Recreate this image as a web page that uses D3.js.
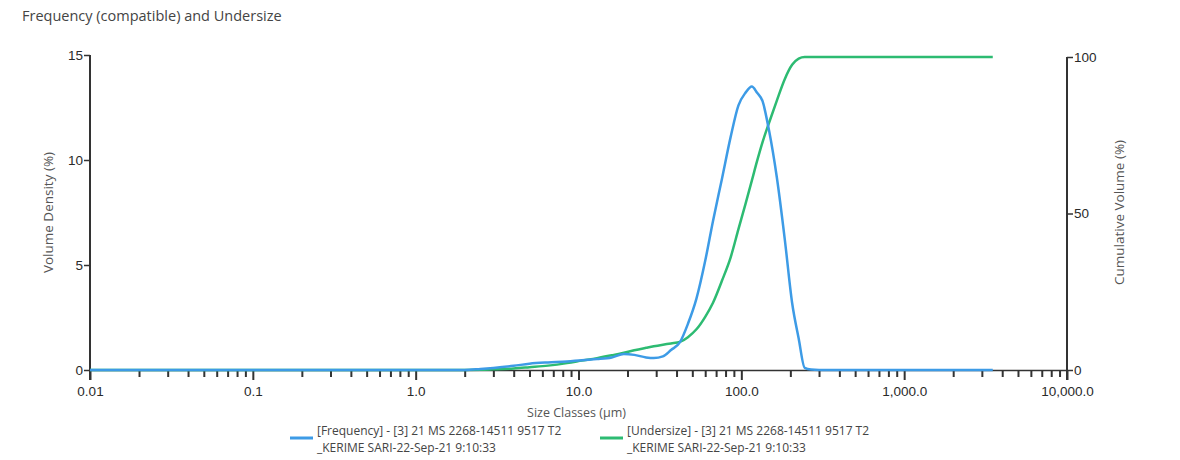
<!DOCTYPE html>
<html>
<head>
<meta charset="utf-8">
<script src="https://cdn.jsdelivr.net/npm/d3@7"></script>
<style>
  html, body { margin: 0; padding: 0; background: #fff; }
  svg { display: block; font-family: "Open Sans", "Noto Sans", sans-serif; }
</style>
</head>
<body>
<svg id="chart" width="1180" height="460"></svg>
<script>
// ---- data ----
const chartTitle = "Frequency (compatible) and Undersize";
const xTitle = "Size Classes (\u00b5m)";
const yLeftTitle = "Volume Density (%)";
const yRightTitle = "Cumulative Volume (%)";

const sizes = [0.01, 0.1, 1, 2.0, 2.5, 3.0, 4.0, 5.0, 6.5, 8.5, 10.5, 13, 16, 19, 22, 26, 29, 33, 37, 42, 47, 53, 60, 67, 76, 86, 96, 106, 116, 125, 135, 148, 165, 185, 205, 225, 245, 268, 300, 500, 1000, 2000, 3500];
const frequency = [0, 0, 0, 0, 0.05, 0.1, 0.2, 0.3, 0.36, 0.4, 0.47, 0.52, 0.6, 0.76, 0.72, 0.6, 0.57, 0.65, 0.95, 1.33, 2.2, 3.4, 5.2, 7.1, 9.1, 11.1, 12.6, 13.2, 13.5, 13.2, 12.8, 11.4, 9.2, 6.2, 3.2, 1.5, 0.1, 0.02, 0, 0, 0, 0, 0];
const undersize = [0, 0, 0, 0, 0.05, 0.2, 0.5, 0.9, 1.4, 2.2, 3.0, 3.8, 4.7, 5.5, 6.3, 7.1, 7.6, 8.1, 8.5, 9.0, 10.5, 13, 17, 21.5, 28.5, 36, 45, 53, 60.5, 66.8, 72.8, 79, 86, 93, 97.5, 99.5, 100, 100, 100, 100, 100, 100, 100];

const majorTicks = [0.01, 0.1, 1, 10, 100, 1000, 10000];
const majorTickLabels = ["0.01", "0.1", "1.0", "10.0", "100.0", "1,000.0", "10,000.0"];
const minorMultipliers = [2, 3, 4, 5, 6, 7, 8, 9];
const leftTicks = [0, 5, 10, 15];
const rightTicks = [0, 50, 100];

const legendItems = [
  { line1: "[Frequency] - [3] 21 MS 2268-14511 9517 T2", line2: "_KERIME SARI-22-Sep-21 9:10:33", color: "#3d9be6" },
  { line1: "[Undersize] - [3] 21 MS 2268-14511 9517 T2", line2: "_KERIME SARI-22-Sep-21 9:10:33", color: "#2dbb72" }
];

// ---- drawing ----
const svg = d3.select("#chart");
const L = 90, R = 1067, T = 55, B = 370;
const axisColor = "#333";
const textColor = "#2a2a2a";

const x = d3.scaleLog().domain([0.01, 10000]).range([L, R]);
const yL = d3.scaleLinear().domain([0, 15]).range([B, T]);
const yR = d3.scaleLinear().domain([0, 100]).range([B, T + 2]);

svg.append("text").attr("x", 22).attr("y", 21)
  .attr("font-size", 14.5).attr("fill", "#444").text(chartTitle);

// minor x ticks
const minorVals = [];
majorTicks.slice(0, -1).forEach(d => minorMultipliers.forEach(m => minorVals.push(d * m)));
const gMinor = svg.append("g").attr("transform", `translate(0,${B})`)
  .call(d3.axisBottom(x).tickValues(minorVals).tickSize(7).tickSizeOuter(0).tickFormat(""));
gMinor.select(".domain").remove();

const gMajor = svg.append("g").attr("transform", `translate(0,${B})`)
  .call(d3.axisBottom(x).tickValues(majorTicks).tickSize(10).tickSizeOuter(0)
    .tickFormat((d, i) => majorTickLabels[i]));
gMajor.select(".domain").attr("stroke", axisColor).attr("stroke-width", 1.5);
gMajor.selectAll("text").attr("font-size", 13.5).attr("fill", textColor).attr("y", 16);
[gMinor, gMajor].forEach(g => g.selectAll("line").attr("stroke", axisColor).attr("stroke-width", 2));

// left axis
const gL = svg.append("g").attr("transform", `translate(${L},0)`)
  .call(d3.axisLeft(yL).tickValues(leftTicks).tickSize(6).tickSizeOuter(0));
gL.select(".domain").attr("d", `M0,${T}V${B + 10}`).attr("stroke", axisColor).attr("stroke-width", 2);
gL.selectAll("line").attr("stroke", axisColor).attr("stroke-width", 1.5);
gL.selectAll("text").attr("font-size", 13.5).attr("fill", textColor).attr("x", -7);

// right axis
const gR = svg.append("g").attr("transform", `translate(${R},0)`)
  .call(d3.axisRight(yR).tickValues(rightTicks).tickSize(6).tickSizeOuter(0));
gR.select(".domain").attr("d", `M0,${T + 2}V${B + 10}`).attr("stroke", axisColor).attr("stroke-width", 2);
gR.selectAll("line").attr("stroke", axisColor).attr("stroke-width", 1.5);
gR.selectAll("text").attr("font-size", 13.5).attr("fill", textColor).attr("x", 7);

// axis titles
svg.append("text").attr("transform", `translate(53,${(T + B) / 2}) rotate(-90)`)
  .attr("text-anchor", "middle").attr("font-size", 13.5).attr("fill", "#555").text(yLeftTitle);
svg.append("text").attr("transform", `translate(1124,${(T + B) / 2}) rotate(-90)`)
  .attr("text-anchor", "middle").attr("font-size", 13.5).attr("fill", "#555").text(yRightTitle);
svg.append("text").attr("x", (L + R) / 2 - 2).attr("y", 417)
  .attr("text-anchor", "middle").attr("font-size", 12.5).attr("fill", "#555").text(xTitle);

// lines
const pts = sizes.map((s, i) => ({ s, f: frequency[i], u: undersize[i] }));
svg.append("path").datum(pts)
  .attr("fill", "none").attr("stroke", legendItems[1].color).attr("stroke-width", 2.5)
  .attr("d", d3.line().x(d => x(d.s)).y(d => yR(d.u)).curve(d3.curveMonotoneX));
svg.append("path").datum(pts)
  .attr("fill", "none").attr("stroke", legendItems[0].color).attr("stroke-width", 2.5)
  .attr("d", d3.line().x(d => x(d.s)).y(d => yL(d.f)).curve(d3.curveMonotoneX));

// legend
const legendX = [290, 600];
legendItems.forEach((it, i) => {
  const g = svg.append("g").attr("transform", `translate(${legendX[i]},0)`);
  g.append("line").attr("x1", 0).attr("x2", 23).attr("y1", 438).attr("y2", 438)
    .attr("stroke", it.color).attr("stroke-width", 3);
  g.append("text").attr("x", 27).attr("y", 435).attr("font-size", 12).attr("fill", "#444").text(it.line1);
  g.append("text").attr("x", 27).attr("y", 452).attr("font-size", 12).attr("fill", "#444").text(it.line2);
});
</script>
</body>
</html>
